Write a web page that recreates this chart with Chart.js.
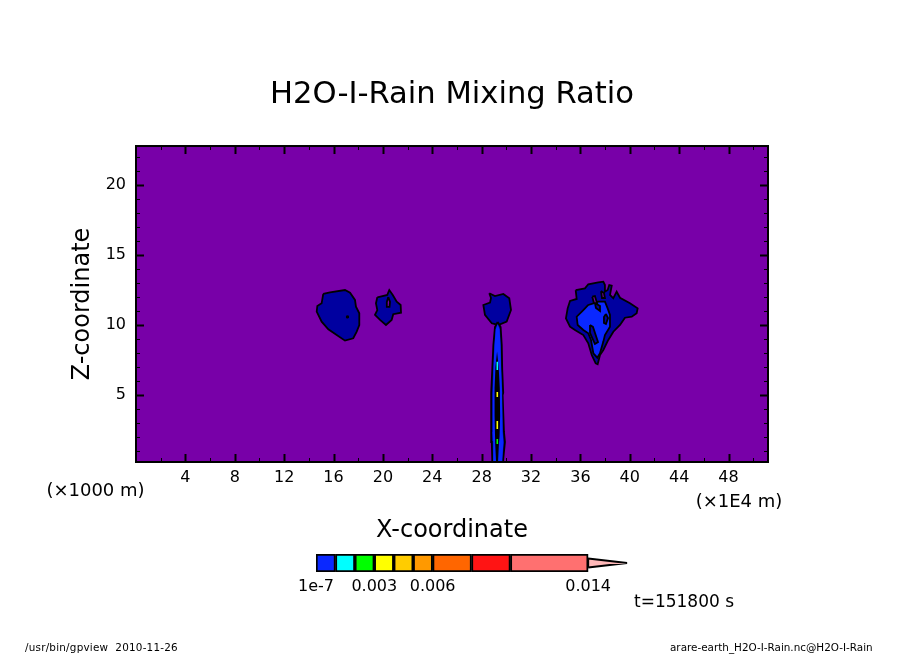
<!DOCTYPE html>
<html><head><meta charset="utf-8">
<style>html,body{margin:0;padding:0;background:#fff;overflow:hidden}
#wrap{position:relative;width:904px;height:654px}
canvas{position:absolute}</style>
<script src="https://cdn.jsdelivr.net/npm/chart.js@4"></script></head>
<body><div id="wrap">
<canvas id="main" width="904" height="654" style="left:0;top:0;width:904px;height:654px"></canvas>
<canvas id="bar" width="380" height="70" style="left:280px;top:540px;width:380px;height:70px"></canvas>
</div>
<script>
const titleText = "H2O-I-Rain Mixing Ratio";
const xTitle = "X-coordinate";
const zTitle = "Z-coordinate";
const xTicks = [4,8,12,16,20,24,28,32,36,40,44,48];
const xMinor = [2,6,10,14,18,22,26,30,34,38,42,46,50];
const zTicks = [5,10,15,20];
const zMinor = [1,2,3,4,6,7,8,9,11,12,13,14,16,17,18,19,21,22];
const xRange = [0,51.2];
const zRange = [0.2,22.8];

const blobA = [[15.17,12.22],[15.72,12.34],[16.93,12.5],[17.34,12.31],[17.74,11.79],[17.82,11.31],[18.09,10.84],[18.09,10.0],[17.88,9.52],[17.6,9.05],[16.93,8.88],[16.26,9.28],[15.58,9.69],[15.04,10.24],[14.64,10.95],[14.69,11.36],[15.04,11.55]];
const blobAspeck = [[17.05,10.65],[17.2,10.65],[17.2,10.5],[17.05,10.5]];
const blobB = [[19.55,11.98],[20.36,12.15],[20.52,12.5],[20.8,12.15],[21.12,11.67],[21.44,11.43],[21.47,10.88],[20.84,10.77],[20.71,10.36],[20.25,10.0],[19.77,10.36],[19.36,10.72],[19.55,11.07],[19.44,11.55]];
const blobBhole = [[20.44,12.0],[20.58,11.65],[20.54,11.29],[20.33,11.29],[20.32,11.65]];
const blobC = [[28.62,12.27],[29.08,12.07],[29.76,12.22],[30.24,11.91],[30.38,11.07],[30.03,10.24],[29.35,10.0],[28.82,10.12],[28.27,10.72],[28.14,11.43],[28.68,11.6],[28.76,11.93]];
const columnOuter = [[29.3,10.21],[29.54,9.86],[29.63,8.57],[29.67,6.78],[29.75,5.14],[29.7,4.99],[29.81,2.35],[29.89,1.63],[29.75,0.41],[29.75,0.2],[28.86,0.2],[28.86,0.41],[28.82,1.63],[28.76,2.35],[28.8,4.99],[28.76,5.14],[28.86,6.78],[28.95,8.57],[29.08,9.86]];
const columnInner = [[29.3,10.05],[29.46,9.7],[29.53,8.5],[29.58,6.8],[29.66,5.1],[29.7,2.4],[29.76,1.6],[29.66,0.2],[28.97,0.2],[28.94,1.6],[28.88,2.35],[28.9,5.0],[28.96,6.8],[29.04,8.5],[29.14,9.7]];
const columnCore = [[29.25,8.1],[29.38,7.0],[29.47,5.5],[29.5,3.5],[29.45,2.0],[29.4,1.5],[29.33,0.2],[29.17,0.2],[29.1,1.5],[29.05,3.5],[29.05,5.5],[29.12,7.0]];
const streakCyan = [[29.27,7.37],[29.27,6.78]];
const streakYellowA = [[29.27,5.21],[29.27,4.85]];
const streakYellowB = [[29.27,3.13],[29.27,2.56]];
const streakGreen = [[29.27,1.85],[29.27,1.49]];
const blobD = [[35.62,12.5],[36.37,12.62],[36.64,12.91],[37.45,13.05],[37.86,13.1],[37.99,12.86],[37.99,12.38],[38.21,12.5],[38.34,12.86],[38.54,12.81],[38.4,12.15],[38.67,11.91],[38.94,12.38],[39.21,11.95],[40.02,11.55],[40.64,11.19],[40.56,10.84],[40.16,10.59],[39.61,10.52],[39.21,10.0],[38.67,9.52],[38.26,8.93],[37.86,8.21],[37.59,7.85],[37.4,7.19],[37.24,7.26],[36.92,7.85],[36.64,8.69],[36.24,9.28],[35.56,9.64],[35.16,9.88],[34.83,10.48],[34.97,11.19],[35.16,11.72],[35.7,11.86]];
const blobDinner = [[36.64,11.43],[37.05,11.55],[37.45,11.67],[37.99,11.67],[38.21,11.19],[38.4,10.72],[38.4,9.88],[37.99,9.28],[37.86,8.81],[37.59,7.98],[37.37,7.66],[37.05,7.98],[36.86,8.93],[36.64,9.41],[36.24,9.64],[35.78,10.0],[35.7,10.59],[36.24,11.07]];
const blobDislandA = [[36.78,10.0],[37.02,9.86],[37.43,8.78],[37.18,8.64],[36.78,9.43]];
const blobDislandB = [[38.07,10.79],[38.24,10.5],[38.07,10.07],[37.91,10.14],[37.91,10.57]];
const blobDislandC = [[37.18,11.57],[37.59,11.36],[37.59,11.0],[37.26,11.22]];
const blobDholeA = [[36.96,12.02],[37.18,12.07],[37.35,11.57],[37.1,11.57]];
const blobDholeB = [[37.67,12.43],[37.91,12.29],[37.99,11.93],[37.75,11.93]];

const cPurple = "#7800a8", cNavy = "#0000a0", cBlue = "#0a28ff";
const cCyan = "#00ffff", cYellow = "#ffff00", cGreen = "#00ff00";

const levels = [1e-7,0.001,0.002,0.003,0.004,0.005,0.006,0.008,0.010,0.014];
const levelColors = ["#0a28ff","#00ffff","#00ff00","#ffff00","#ffcc00","#ff9900","#ff6600","#ff1414","#ff7070"];
const barTickValues = [1e-7,0.003,0.006,0.014];
const barTickLabels = ["1e-7","0.003","0.006","0.014"];
const arrowX = [0.014,0.016,0.014,0.014];
const arrowY = [0,0.5,1,0];
const arrowColor = "#ffb8b8";
const barMax = 0.01605;

const FONT = "'DejaVu Sans'";

function poly(pts, color, bw){
  const data = pts.concat([pts[0]]).map(p=>({x:p[0],y:p[1]}));
  return {data, showLine:true, pointRadius:0, tension:0, fill:'shape',
          backgroundColor:color, borderColor:'#000', borderWidth:bw===undefined?1.8:bw};
}
function streak(pts,color){
  return {data:pts.map(p=>({x:p[0],y:p[1]})), showLine:true, pointRadius:0, tension:0, fill:false,
          borderColor:color, borderWidth:1.6};
}
const layers = [
  poly(blobA,cNavy), poly(blobAspeck,'#000',1),
  poly(blobB,cNavy), poly(blobBhole,cPurple),
  poly(blobC,cNavy),
  poly(columnOuter,cNavy), poly(columnInner,cBlue,0), poly(columnCore,'#000',0),
  streak(streakCyan,cCyan), streak(streakYellowA,cYellow), streak(streakYellowB,cYellow), streak(streakGreen,cGreen),
  poly(blobD,cNavy), poly(blobDinner,cBlue),
  poly(blobDislandA,cNavy), poly(blobDislandB,cNavy), poly(blobDislandC,cNavy),
  poly(blobDholeA,cPurple), poly(blobDholeB,cPurple)
];
layers.forEach((d,i)=>{d.order = layers.length-i;});

const frame = {
  id:'frame',
  beforeDatasetsDraw(c){
    const a=c.chartArea,g=c.ctx; g.save(); g.fillStyle=cPurple;
    g.fillRect(a.left,a.top,a.right-a.left,a.bottom-a.top); g.restore();
  },
  afterDatasetsDraw(c){
    const a=c.chartArea,g=c.ctx,sx=c.scales.x,sy=c.scales.y;
    g.save(); g.strokeStyle='#000';
    const vt=(v,l,w)=>{const p=Math.round(sx.getPixelForValue(v))+0.5;g.lineWidth=w;g.beginPath();
      g.moveTo(p,a.bottom);g.lineTo(p,a.bottom-l);g.moveTo(p,a.top);g.lineTo(p,a.top+l);g.stroke();};
    const ht=(v,l,w)=>{const p=Math.round(sy.getPixelForValue(v))+0.5;g.lineWidth=w;g.beginPath();
      g.moveTo(a.left,p);g.lineTo(a.left+l,p);g.moveTo(a.right,p);g.lineTo(a.right-l,p);g.stroke();};
    xMinor.forEach(v=>vt(v,4,1)); xTicks.forEach(v=>vt(v,8,2));
    zMinor.forEach(v=>ht(v,4,1)); zTicks.forEach(v=>ht(v,8,2));
    g.lineWidth=2; g.strokeRect(a.left,a.top,a.right-a.left,a.bottom-a.top);
    g.fillStyle='#000'; g.textAlign='center'; g.textBaseline='middle';
    g.font="18px "+FONT; g.fillText("(×1000 m)",95.5,491); g.fillText("(×1E4 m)",739,502);
    g.font="17px "+FONT; g.fillText("t=151800 s",684,603);
    g.font="10.4px "+FONT; g.textAlign='left';
    g.letterSpacing='0.22px';
    g.fillText("/usr/bin/gpview  2010-11-26",25,648.5);
    g.letterSpacing='0px';
    g.fillText("arare-earth_H2O-I-Rain.nc@H2O-I-Rain",670,648.5);
    g.restore();
  }
};

new Chart(document.getElementById('main'),{
  type:'scatter',
  data:{datasets:layers},
  options:{
    responsive:false, animation:false, devicePixelRatio:1,
    layout:{autoPadding:false,padding:0},
    plugins:{legend:{display:false},tooltip:{enabled:false},
      title:{display:true,text:titleText,color:'#000',
        font:{family:FONT,size:30.6,weight:'normal',lineHeight:1.2},
        padding:{top:77,bottom:32.3}}},
    scales:{
      x:{type:'linear',position:'bottom',min:xRange[0],max:xRange[1],
        afterBuildTicks(s){s.ticks=xTicks.map(v=>({value:v}));},
        afterFit(s){s.height=192;},
        grid:{display:false,drawTicks:false},border:{display:false},
        ticks:{autoSkip:false,maxRotation:0,padding:6,color:'#000',font:{family:FONT,size:16},callback:v=>String(v)},
        title:{display:true,text:xTitle,color:'#000',font:{family:FONT,size:24,lineHeight:1.2},padding:{top:0,bottom:109}}},
      y:{type:'linear',position:'left',min:zRange[0],max:zRange[1],
        afterBuildTicks(s){s.ticks=zTicks.map(v=>({value:v}));},
        afterFit(s){s.width=136;},
        grid:{display:false,drawTicks:false},border:{display:false},
        ticks:{autoSkip:false,padding:10,color:'#000',font:{family:FONT,size:16},callback:v=>String(v)},
        title:{display:true,text:zTitle,color:'#000',font:{family:FONT,size:24,lineHeight:1.2},padding:{top:68,bottom:0}}},
      yRight:{type:'linear',position:'right',min:zRange[0],max:zRange[1],
        afterFit(s){s.width=136;},
        grid:{display:false,drawTicks:false},border:{display:false},ticks:{display:false}}
    }
  },
  plugins:[frame]
});

const barSets = levelColors.map((col,i)=>({
  type:'bar', indexAxis:'y', grouped:false, xAxisID:'x', yAxisID:'y',
  data:[[levels[i],levels[i+1]]], backgroundColor:col, borderColor:'#000', borderWidth:2,
  borderSkipped:false, barPercentage:1, categoryPercentage:1, order:1
}));
barSets.push({
  type:'scatter', xAxisID:'x', yAxisID:'yT', order:2, clip:false,
  data:arrowX.map((x,i)=>({x,y:arrowY[i]})), showLine:true, pointRadius:0, tension:0,
  fill:'shape', backgroundColor:arrowColor, borderColor:'#000', borderWidth:2, borderJoinStyle:'bevel'
});
new Chart(document.getElementById('bar'),{
  type:'bar',
  data:{labels:[''],datasets:barSets},
  options:{
    indexAxis:'y', responsive:false, animation:false, devicePixelRatio:1,
    layout:{autoPadding:false,padding:{left:36,right:32,top:14,bottom:0}},
    plugins:{legend:{display:false},tooltip:{enabled:false},title:{display:false}},
    scales:{
      x:{type:'linear',position:'bottom',min:0,max:barMax,
        afterBuildTicks(s){s.ticks=barTickValues.map(v=>({value:v}));},
        afterFit(s){s.height=38;},
        grid:{display:false,drawTicks:false},border:{display:false},
        ticks:{autoSkip:false,maxRotation:0,padding:5,color:'#000',font:{family:FONT,size:16},
          callback:(v,i)=>barTickLabels[i]}},
      y:{type:'category',labels:[''],display:false,position:'left'},
      yT:{type:'linear',axis:'y',min:0,max:1,display:false,position:'left'}
    }
  }
});
</script></body></html>
